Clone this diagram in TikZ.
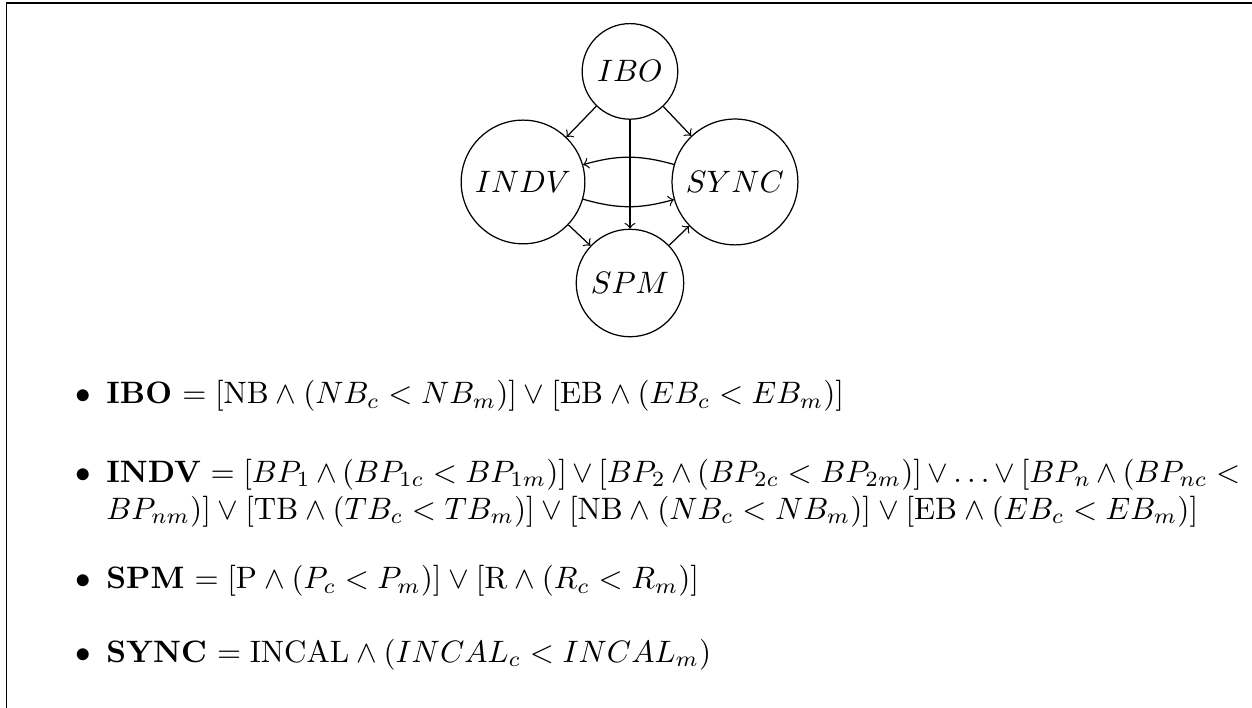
\documentclass[tikz,border=0pt]{standalone}
\usepackage{amsmath,amssymb}
\usepackage{tikz}

\begin{document}
\begin{tikzpicture}[state/.style={circle, draw},
                    cond/.style={anchor=base west, inner sep=0pt, text width=12.86cm, align=justify}]
        \useasboundingbox (0, 0) rectangle (14.2, 8.03);
        \draw (0.074, 0) -- (0.074, 7.996) -- (14.2, 7.996);
        \node [state] (IBO) at (7.145, 7.22) {$IBO$};
        \node [state] (INDV) at (5.932, 5.966) {$INDV$};
        \node [state] (SYNC) at (8.336, 5.966) {$SYNC$};
        \node [state] (SPM) at (7.145, 4.82) {$SPM$};
        \draw [->] (IBO) -- (INDV);
        \draw [->] (IBO) -- (SYNC);
        \draw [->] (IBO) -- (SPM);
        \draw [->] (INDV) to [bend right=16] (SYNC);
        \draw [->] (SYNC) to [bend right=16] (INDV);
        \draw [->] (INDV) -- (SPM);
        \draw [->] (SPM) -- (SYNC);
        \node [cond] (cIBO) at (1.2, 3.448) {\llap{$\bullet$\hspace{5pt}}\textbf{IBO} $= [\mathrm{NB} \wedge (NB_c < NB_m)] \vee [\mathrm{EB} \wedge (EB_c < EB_m)]$};
        \node [cond] (cINDV) at (1.2, 2.563) {\llap{$\bullet$\hspace{5pt}}\textbf{INDV} $= [BP_1 \wedge (BP_{1c} < BP_{1m})] \vee [BP_2 \wedge (BP_{2c} < BP_{2m})] \vee \ldots \vee [BP_n \wedge (BP_{nc} < BP_{nm})] \vee [\mathrm{TB} \wedge (TB_c < TB_m)] \vee [\mathrm{NB} \wedge (NB_c < NB_m)] \vee [\mathrm{EB} \wedge (EB_c < EB_m)]$};
        \node [cond] (cSPM) at (1.2, 1.35) {\llap{$\bullet$\hspace{5pt}}\textbf{SPM} $= [\mathrm{P} \wedge (P_c < P_m)] \vee [\mathrm{R} \wedge (R_c < R_m)]$};
        \node [cond] (cSYNC) at (1.2, 0.52) {\llap{$\bullet$\hspace{5pt}}\textbf{SYNC} $= \mathrm{INCAL} \wedge (INCAL_c < INCAL_m)$};
\end{tikzpicture}
\end{document}
